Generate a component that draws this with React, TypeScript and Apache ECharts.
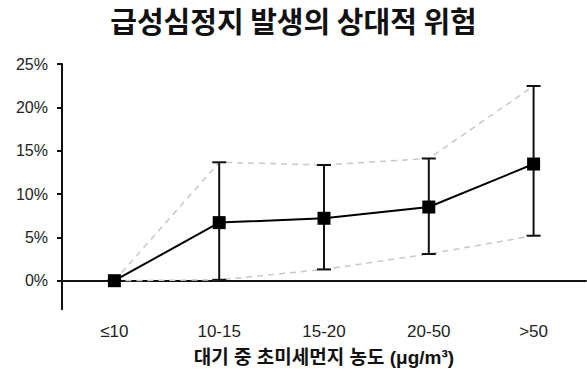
import React, { useEffect, useRef } from "react";
import * as echarts from "echarts";

const categories = ["≤10", "10-15", "15-20", "20-50", ">50"];
const meanValues = [0, 6.7, 7.2, 8.5, 13.46];
const upperValues = [0, 13.66, 13.35, 14.1, 22.46];
const lowerValues = [0, 0.1, 1.3, 3.08, 5.19];
const yTicks = [0, 5, 10, 15, 20, 25];

const FONT = "'Liberation Sans', Arial, 'Noto Sans CJK KR', sans-serif";
const KFONT = "'Noto Sans CJK KR', 'Liberation Sans', sans-serif";

export default function App() {
  const ref = useRef<HTMLDivElement>(null);
  useEffect(() => {
    if (!ref.current) return;
    const chart = echarts.init(ref.current, null, { renderer: "svg" });
    const errData = categories.map((_, i) => [i, lowerValues[i], upperValues[i]]);
    chart.setOption({
      animation: false,
      backgroundColor: "#ffffff",
      title: {
        text: "급성심정지 발생의 상대적 위험",
        left: "center",
        top: 0,
        textStyle: { fontFamily: KFONT, fontSize: 29, fontWeight: "bold", color: "#111" },
      },
      grid: { left: 62, right: 1, top: 64, bottom: 73.7, containLabel: false, outerBoundsMode: "none" },
      xAxis: {
        type: "category",
        data: categories,
        boundaryGap: true,
        axisLine: { onZero: true, lineStyle: { color: "#111", width: 2 } },
        axisTick: { alignWithLabel: true, length: 5, lineStyle: { color: "#111", width: 2 } },
        axisLabel: { margin: 14, fontFamily: FONT, fontSize: 17, color: "#222" },
        name: "대기 중 초미세먼지 농도 (μg/m³)",
        nameLocation: "middle",
        nameGap: 39,
        nameTextStyle: { fontFamily: FONT, fontSize: 19, fontWeight: "bold", color: "#111" },
        splitLine: { show: false },
      },
      yAxis: {
        type: "value",
        min: -3.3,
        max: 25,
        axisLine: { show: true, onZero: false, lineStyle: { color: "#111", width: 2 } },
        axisTick: { show: true, length: 5, customValues: yTicks, lineStyle: { color: "#111", width: 2 } },
        axisLabel: {
          customValues: yTicks,
          formatter: (v: number) => `${v}%`,
          margin: 14,
          fontFamily: FONT,
          fontSize: 16,
          color: "#222",
        },
        splitLine: { show: false },
      },
      series: [
        {
          type: "line",
          data: upperValues,
          symbol: "none",
          lineStyle: { color: "#c8c8c8", width: 1.5, type: [6, 5] },
          z: 1,
        },
        {
          type: "line",
          data: lowerValues,
          symbol: "none",
          lineStyle: { color: "#c8c8c8", width: 1.5, type: [6, 5] },
          z: 1,
        },
        {
          type: "custom",
          data: errData,
          z: 2,
          renderItem: (params: any, api: any) => {
            const idx = api.value(0);
            const lo = api.coord([idx, api.value(1)]);
            const hi = api.coord([idx, api.value(2)]);
            const hw = 7;
            const style = { stroke: "#111", lineWidth: 2 };
            return {
              type: "group",
              children: [
                { type: "line", shape: { x1: lo[0], y1: lo[1], x2: hi[0], y2: hi[1] }, style },
                { type: "line", shape: { x1: hi[0] - hw, y1: hi[1], x2: hi[0] + hw, y2: hi[1] }, style },
                { type: "line", shape: { x1: lo[0] - hw, y1: lo[1], x2: lo[0] + hw, y2: lo[1] }, style },
              ],
            };
          },
        },
        {
          type: "line",
          data: meanValues,
          symbol: "rect",
          symbolSize: 13,
          itemStyle: { color: "#000" },
          lineStyle: { color: "#000", width: 2 },
          z: 3,
        },
      ],
    });
    return () => chart.dispose();
  }, []);
  return (
    <div
      ref={ref}
      style={{ position: "fixed", left: 0, top: 0, width: 587, height: 383, background: "#fff" }}
    />
  );
}
